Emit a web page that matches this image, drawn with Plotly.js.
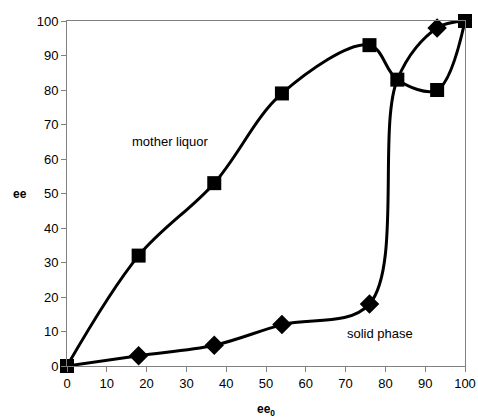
<!DOCTYPE html>
<html><head><meta charset="utf-8">
<script src="https://cdn.plot.ly/plotly-3.0.1.min.js"></script>
<style>html,body{margin:0;padding:0;background:#fff}#c{width:478px;height:418px}</style>
</head><body><div id="c"></div>
<script>
const motherX = [0, 18, 37, 54, 76, 83, 93, 100];
const motherY = [0, 32, 53, 79, 93, 83, 80, 100];
const solidX = [0, 18, 37, 54, 76, 83, 93, 100];
const solidY = [0, 3, 6, 12, 18, 83, 98, 100];
const xTicks = [0,10,20,30,40,50,60,70,80,90,100];
const yTicks = [0,10,20,30,40,50,60,70,80,90,100];

const diamondSizes = solidX.map((x, i) => (motherX[i] === x && motherY[i] === solidY[i]) ? 0 : 15);

const traces = [
  {x: solidX, y: solidY, mode: 'lines+markers', name: 'solid phase',
   line: {color: '#000', width: 3, shape: 'spline', smoothing: 1},
   marker: {symbol: 'diamond', size: diamondSizes, color: '#000', opacity: 1, line: {width: 0}}, cliponaxis: false},
  {x: motherX, y: motherY, mode: 'lines+markers', name: 'mother liquor',
   line: {color: '#000', width: 3, shape: 'spline', smoothing: 1},
   marker: {symbol: 'square', size: 14, color: '#000', opacity: 1}, cliponaxis: false}
];
const layout = {
  width: 478, height: 418,
  margin: {l: 67, r: 13, t: 21, b: 52},
  paper_bgcolor: '#fff', plot_bgcolor: '#fff',
  showlegend: false,
  font: {family: 'Arial, Liberation Sans, sans-serif', size: 13, color: '#000'},
  xaxis: {range: [0, 100], tickvals: xTicks, ticktext: xTicks.map(String),
    showgrid: false, zeroline: false, showline: true, linecolor: '#808080', linewidth: 1,
    mirror: true, ticks: 'outside', ticklen: 5, tickcolor: '#808080',
    title: {text: '<b>ee<sub>0</sub></b>', font: {size: 12}, standoff: 16}},
  yaxis: {range: [0, 100], tickvals: yTicks, ticktext: yTicks.map(String),
    showgrid: false, zeroline: false, showline: true, linecolor: '#808080', linewidth: 1,
    mirror: true, ticks: 'outside', ticklen: 5, tickcolor: '#808080'},
  annotations: [
    {x: -0.118, y: 50, xref: 'paper', yref: 'y', text: '<b>ee</b>', showarrow: false, font: {size: 12}, xanchor: 'center'},
    {x: 25.9, y: 65.2, xref: 'x', yref: 'y', text: 'mother liquor', showarrow: false, font: {size: 13}},
    {x: 78.6, y: 9.3, xref: 'x', yref: 'y', text: 'solid phase', showarrow: false, font: {size: 13}}
  ]
};
Plotly.newPlot('c', traces, layout, {displayModeBar: false, staticPlot: true});
</script></body></html>
